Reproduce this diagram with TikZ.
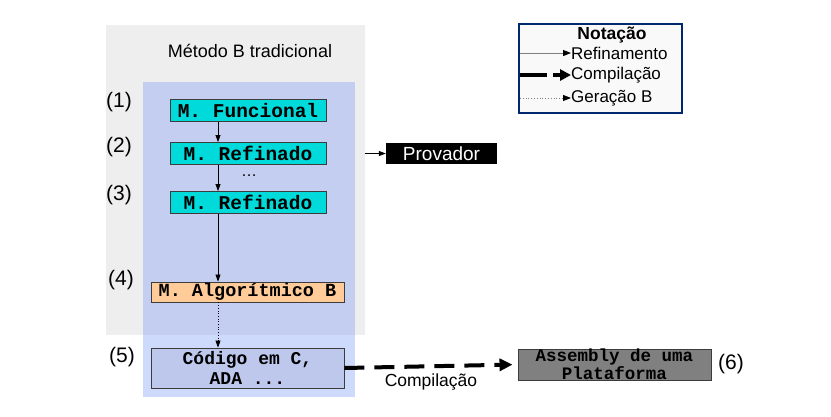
\documentclass[tikz,border=0pt]{standalone}
\usepackage{fontspec}
\setmainfont{Liberation Sans}
\setmonofont{Liberation Mono}
\usetikzlibrary{arrows.meta,calc}
\definecolor{bggray}{RGB}{238,238,238}
\definecolor{blueA}{RGB}{196,206,240}
\definecolor{blueB}{RGB}{206,218,252}
\definecolor{cyanfill}{RGB}{0,218,218}
\definecolor{orangefill}{RGB}{255,204,153}
\definecolor{codefill}{RGB}{190,200,236}
\definecolor{asmfill}{RGB}{128,128,128}
\definecolor{edgegray}{RGB}{60,60,60}
\definecolor{legendblue}{RGB}{0,40,110}
\newcommand{\sz}[1]{\fontsize{#1}{#1}\selectfont}
\newcommand{\szb}[2]{\fontsize{#1}{#2}\selectfont}
\tikzset{
  mbox/.style={draw=edgegray, line width=0.9, inner sep=0, align=center, font=\ttfamily\bfseries\sz{18.5}},
  cyanbox/.style={mbox, fill=cyanfill, minimum width=156, minimum height=22, font=\ttfamily\bfseries\sz{19.5}},
  orangebox/.style={mbox, fill=orangefill, minimum width=193, minimum height=20},
  codebox/.style={mbox, fill=codefill, minimum width=193, minimum height=40, font=\ttfamily\bfseries\szb{18}{20}},
  asmbox/.style={mbox, fill=asmfill, minimum width=193, minimum height=31, font=\ttfamily\bfseries\szb{17.5}{16}},
  numlabel/.style={font=\sz{21}, inner sep=0},
  legtext/.style={font=\sz{17}, anchor=west, inner sep=0},
  arr/.style={line width=0.7, -{Triangle[length=7,width=5]}},
}
\begin{document}
\begin{tikzpicture}[x=1pt,y=-1pt]
\useasboundingbox (0,0) rectangle (831,416);
% backgrounds
\fill[bggray] (106,25) rectangle (365,335);
\fill[blueA] (143,82) rectangle (355,335);
\fill[blueB] (143,335) rectangle (355,397);
\node[font=\sz{18}, inner sep=0] (title) at (250,51) {Método B tradicional};
% nodes
\node[cyanbox] (f) at (248,110.5) {M. Funcional};
\node[cyanbox] (r1) at (248,153.5) {M. Refinado};
\node[font=\sz{16}, inner sep=0] (dots) at (249,176) {\dots};
\node[cyanbox] (r2) at (248,202.5) {M. Refinado};
\node[orangebox] (alg) at (247.5,292) {M. Algorítmico B};
\node[codebox] (code) at (247.5,368) {Código em C,\\ADA ...};
\node[asmbox] (asm) at (614.5,364.5) {Assembly de uma\\Plataforma};
\node[fill=black, text=white, font=\sz{19}, minimum width=111, minimum height=21, inner sep=0] (prov) at (441.5,153.5) {Provador};
% labels
\node[numlabel] (l1) at (119,102) {(1)};
\node[numlabel] (l2) at (119,147) {(2)};
\node[numlabel] (l3) at (119,195) {(3)};
\node[numlabel] (l4) at (121,280) {(4)};
\node[numlabel] (l5) at (122,357) {(5)};
\node[numlabel] (l6) at (731,364) {(6)};
% connectors
\coordinate (ax) at (218,0);
\draw[arr] (f.south -| ax) -- (r1.north -| ax);
\draw[arr] (r1.south -| ax) -- (r2.north -| ax);
\draw[arr] (r2.south -| ax) -- (alg.north -| ax);
\draw[line width=0.7, dotted, -{Triangle[length=7,width=5]}] (alg.south -| ax) -- (code.north -| ax);
\coordinate (pstart) at (365,153.5);
\draw[arr] (pstart) -- (prov.west);
\draw[line width=4, dash pattern=on 20 off 10, -{Triangle[length=13,width=12]}, shorten >=5] (code.east) -- (asm.west);
\node[font=\sz{17.5}, inner sep=0] (comp) at (431,382) {Compilação};
% legend
\node[draw=legendblue, line width=1.2, fill=gray!5, minimum width=163, minimum height=89, inner sep=0] (leg) at (600.5,68.5) {};
\node[font=\bfseries\sz{17.5}, inner sep=0] (legt) at (612,35) {Notação};
\coordinate (a1) at (520,53);  \coordinate (b1) at (571,53);
\coordinate (a2) at (520,75);  \coordinate (b2) at (571,75);
\coordinate (a3) at (520,98);  \coordinate (b3) at (571,98);
\draw[gray, line width=1, -{Triangle[length=8,width=6,fill=black,color=black]}] (a1) -- (b1);
\draw[line width=4, dash pattern=on 27 off 6, -{Triangle[length=11,width=11]}] (a2) -- (b2);
\draw[gray, line width=0.8, dotted, -{Triangle[length=8,width=6,fill=black,color=black]}] (a3) -- (b3);
\node[legtext] (t1) at (b1) {Refinamento};
\node[legtext] (t2) at (b2) {Compilação};
\node[legtext] (t3) at (b3) {Geração B};
\end{tikzpicture}
\end{document}
